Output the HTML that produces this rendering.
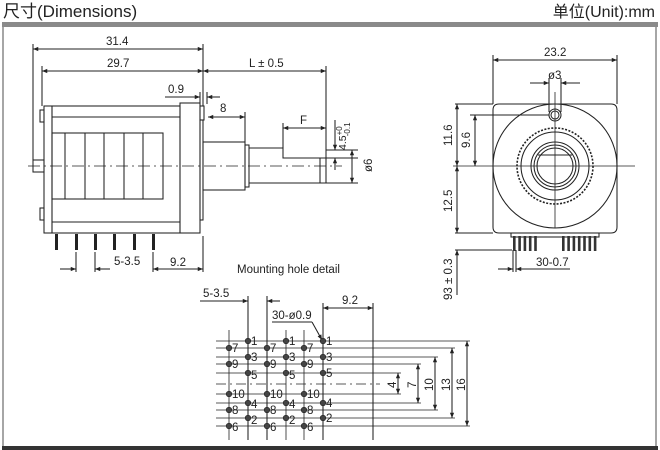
<!DOCTYPE html>
<html><head><meta charset="utf-8"><style>
html,body{margin:0;padding:0;background:#fff;}
svg{display:block;}
text{font-family:"Liberation Sans","Noto Sans CJK SC",sans-serif;fill:#222;}
</style></head><body>
<svg width="660" height="450" viewBox="0 0 660 450" xmlns="http://www.w3.org/2000/svg">
<defs>
<marker id="a" viewBox="0 0 10 10" refX="10" refY="5" markerWidth="7" markerHeight="5" orient="auto-start-reverse"><path d="M0,1 L10,5 L0,9 z" fill="#222"/></marker>
</defs>
<rect width="660" height="450" fill="#fff"/>
<text x="3" y="17" font-size="17">尺寸(Dimensions)</text>
<text x="655" y="17" font-size="16" text-anchor="end">单位(Unit):mm</text>
<rect x="2" y="22" width="656" height="5" fill="#8a8a8a"/>
<line x1="3" y1="27" x2="3" y2="446" stroke="#888" stroke-width="1.5"/>
<line x1="656" y1="27" x2="656" y2="446" stroke="#888" stroke-width="1.5"/>
<rect x="2" y="446" width="656" height="4" fill="#333"/>

<g stroke="#222" stroke-width="1.05" fill="none">
<line x1="33" y1="49" x2="203" y2="49" marker-start="url(#a)" marker-end="url(#a)"/>
<line x1="33" y1="44" x2="33" y2="160"/>
<line x1="42" y1="71" x2="203" y2="71" marker-start="url(#a)" marker-end="url(#a)"/>
<line x1="42" y1="66" x2="42" y2="106"/>
<line x1="203" y1="44" x2="203" y2="106"/>
<line x1="203" y1="71" x2="326" y2="71" marker-start="url(#a)" marker-end="url(#a)"/>
<line x1="326" y1="66" x2="326" y2="160"/>
<line x1="165" y1="97" x2="200" y2="97" marker-end="url(#a)"/>
<line x1="207" y1="97" x2="220" y2="97" marker-start="url(#a)"/>
<line x1="200" y1="92" x2="200" y2="104"/>
<line x1="207" y1="92" x2="207" y2="104"/>
<line x1="208" y1="117" x2="245" y2="117" marker-start="url(#a)" marker-end="url(#a)"/>
<line x1="245" y1="112" x2="245" y2="142"/>
<line x1="283" y1="128" x2="326" y2="128" marker-start="url(#a)" marker-end="url(#a)"/>
<line x1="283" y1="123" x2="283" y2="148"/>
<line x1="335" y1="120" x2="335" y2="150" marker-end="url(#a)"/>
<line x1="335" y1="158" x2="335" y2="170" marker-start="url(#a)"/>
<line x1="283" y1="158" x2="358" y2="158"/>
<line x1="326" y1="150" x2="358" y2="150"/>
<line x1="326" y1="183" x2="358" y2="183"/>
<line x1="352" y1="150" x2="352" y2="183" marker-start="url(#a)" marker-end="url(#a)"/>
<rect x="44" y="106" width="8" height="127"/>
<rect x="40" y="110" width="4" height="12"/>
<rect x="40" y="208" width="4" height="12"/>
<rect x="52" y="106" width="128" height="127"/>
<line x1="52" y1="117" x2="180" y2="117"/>
<line x1="52" y1="222" x2="180" y2="222"/>
<rect x="52" y="133" width="111" height="66"/>
<line x1="65" y1="133" x2="65" y2="199"/>
<line x1="85" y1="133" x2="85" y2="199"/>
<line x1="104" y1="133" x2="104" y2="199"/>
<line x1="124" y1="133" x2="124" y2="199"/>
<line x1="143" y1="133" x2="143" y2="199"/>
<rect x="180" y="103" width="20" height="130"/>
<rect x="200" y="106" width="4" height="14"/>
<rect x="200" y="120" width="3" height="100"/>
<rect x="33" y="160" width="11" height="12"/>
<rect x="203" y="142" width="42" height="48"/>
<rect x="245" y="145" width="4" height="42"/>
<path d="M249 148 H283 V158 H326 V183 H249"/>
<line x1="320" y1="158" x2="320" y2="183"/>
<line x1="28" y1="166" x2="342" y2="166" stroke-dasharray="12,4,2,4" stroke-width="0.8"/>
<line x1="76" y1="252" x2="76" y2="272"/>
<line x1="95" y1="252" x2="95" y2="272"/>
<line x1="153" y1="252" x2="153" y2="272"/>
<line x1="60" y1="269" x2="76" y2="269" marker-end="url(#a)"/>
<line x1="95" y1="269" x2="110" y2="269" marker-start="url(#a)"/>
<line x1="153" y1="269" x2="203" y2="269" marker-start="url(#a)" marker-end="url(#a)"/>
<line x1="203" y1="236" x2="203" y2="272"/>
</g>
<g fill="#222">
<rect x="55" y="234" width="3" height="16"/>
<rect x="75" y="234" width="3" height="16"/>
<rect x="94" y="234" width="3" height="16"/>
<rect x="113" y="234" width="3" height="16"/>
<rect x="133" y="234" width="3" height="16"/>
<rect x="152" y="234" width="3" height="16"/>
</g>
<g font-size="11.5">
<text x="106" y="45">31.4</text>
<text x="107" y="67">29.7</text>
<text x="249" y="67">L ± 0.5</text>
<text x="168" y="93">0.9</text>
<text x="220" y="112">8</text>
<text x="300" y="124">F</text>
<text x="114" y="265">5-3.5</text>
<text x="170" y="266">9.2</text>
<text x="237" y="273">Mounting hole detail</text>
<text transform="translate(346,150) rotate(-90)" font-size="10.5">4.5<tspan font-size="8" dy="-4">+0</tspan><tspan font-size="8" dx="-10" dy="8">-0.1</tspan></text>
<text transform="translate(372,172) rotate(-90)">ø6</text>
</g>

<g stroke="#222" stroke-width="1.05" fill="none">
<line x1="493" y1="60" x2="617" y2="60" marker-start="url(#a)" marker-end="url(#a)"/>
<line x1="493" y1="55" x2="493" y2="104"/>
<line x1="617" y1="55" x2="617" y2="104"/>
<line x1="530" y1="83" x2="549" y2="83" marker-end="url(#a)"/>
<line x1="561" y1="83" x2="580" y2="83" marker-start="url(#a)"/>
<line x1="549" y1="78" x2="549" y2="112"/>
<line x1="561" y1="78" x2="561" y2="112"/>
<path d="M499 104 H611 Q617 104 617 110 V227 Q617 233 611 233 H499 Q493 233 493 227 V110 Q493 104 499 104 Z"/>
<circle cx="555" cy="166" r="62"/>
<circle cx="555" cy="115" r="6"/>
<circle cx="555" cy="115" r="4"/>
<circle cx="555" cy="166" r="38" stroke-dasharray="2,1.5" stroke-width="1.6"/>
<circle cx="555" cy="166" r="34"/>
<circle cx="555" cy="166" r="24"/>
<circle cx="555" cy="166" r="21"/>
<circle cx="555" cy="166" r="18"/>
<line x1="538" y1="155" x2="572" y2="155"/>
<line x1="453" y1="166" x2="635" y2="166" stroke-width="0.8"/>
<line x1="555" y1="92" x2="555" y2="228" stroke-width="0.8"/>
<line x1="455" y1="104" x2="493" y2="104"/>
<line x1="470" y1="115" x2="549" y2="115"/>
<line x1="455" y1="233" x2="493" y2="233"/>
<line x1="455" y1="250" x2="512" y2="250"/>
<line x1="457" y1="104" x2="457" y2="166" marker-start="url(#a)" marker-end="url(#a)"/>
<line x1="475" y1="115" x2="475" y2="166" marker-start="url(#a)" marker-end="url(#a)"/>
<line x1="457" y1="166" x2="457" y2="233" marker-start="url(#a)" marker-end="url(#a)"/>
<line x1="457" y1="250" x2="457" y2="295" marker-start="url(#a)"/>
<rect x="511" y="233" width="88" height="4"/>
<line x1="513" y1="250" x2="513" y2="272"/>
<line x1="516" y1="250" x2="516" y2="272"/>
<line x1="498" y1="269" x2="513" y2="269" marker-end="url(#a)"/>
<line x1="516" y1="269" x2="570" y2="269" marker-start="url(#a)"/>
</g>
<g fill="#333">
<rect x="513" y="236" width="2.6" height="15"/><rect x="518.3" y="236" width="2.6" height="15"/><rect x="523.6" y="236" width="2.6" height="15"/><rect x="528.9" y="236" width="2.6" height="15"/><rect x="534.2" y="236" width="2.6" height="15"/>
<rect x="562" y="236" width="2.6" height="15"/><rect x="567.3" y="236" width="2.6" height="15"/><rect x="572.6" y="236" width="2.6" height="15"/><rect x="577.9" y="236" width="2.6" height="15"/><rect x="583.2" y="236" width="2.6" height="15"/><rect x="588.5" y="236" width="2.6" height="15"/><rect x="593.8" y="236" width="2.6" height="15"/>
</g>
<g font-size="11.5">
<text x="544" y="56">23.2</text>
<text x="548" y="79">ø3</text>
<text x="536" y="266">30-0.7</text>
<text transform="translate(452,146) rotate(-90)">11.6</text>
<text transform="translate(470,148) rotate(-90)">9.6</text>
<text transform="translate(452,212) rotate(-90)">12.5</text>
<text transform="translate(452,300) rotate(-90)">93 ± 0.3</text>
</g>

<g stroke="#222" stroke-width="1.05" fill="none">
<line x1="200" y1="301" x2="248" y2="301" marker-end="url(#a)"/>
<line x1="267" y1="301" x2="280" y2="301" marker-start="url(#a)"/>
<line x1="248" y1="296" x2="248" y2="440"/>
<line x1="267" y1="296" x2="267" y2="440"/>
<line x1="229" y1="330" x2="229" y2="440" stroke-width="0.8"/>
<line x1="286" y1="330" x2="286" y2="440" stroke-width="0.8"/>
<line x1="304" y1="330" x2="304" y2="440" stroke-width="0.8"/>
<line x1="323" y1="303" x2="323" y2="440"/>
<line x1="323" y1="308" x2="373" y2="308" marker-start="url(#a)" marker-end="url(#a)"/>
<line x1="373" y1="303" x2="373" y2="440"/>
<line x1="272" y1="322" x2="312" y2="322"/>
<line x1="312" y1="322" x2="322" y2="340" marker-end="url(#a)"/>
<g stroke-width="0.8">
<line x1="216" y1="341" x2="470" y2="341"/>
<line x1="216" y1="348" x2="455" y2="348"/>
<line x1="216" y1="357" x2="438" y2="357"/>
<line x1="216" y1="364" x2="421" y2="364"/>
<line x1="216" y1="373" x2="401" y2="373"/>
<line x1="216" y1="394" x2="401" y2="394"/>
<line x1="216" y1="403" x2="421" y2="403"/>
<line x1="216" y1="410" x2="438" y2="410"/>
<line x1="216" y1="418" x2="455" y2="418"/>
<line x1="216" y1="426" x2="470" y2="426"/>
<line x1="216" y1="384" x2="380" y2="384" stroke-dasharray="10,4,2,4"/>
</g>
<line x1="398" y1="373" x2="398" y2="394" marker-start="url(#a)" marker-end="url(#a)"/>
<line x1="418" y1="364" x2="418" y2="403" marker-start="url(#a)" marker-end="url(#a)"/>
<line x1="435" y1="357" x2="435" y2="410" marker-start="url(#a)" marker-end="url(#a)"/>
<line x1="452" y1="348" x2="452" y2="418" marker-start="url(#a)" marker-end="url(#a)"/>
<line x1="467" y1="341" x2="467" y2="426" marker-start="url(#a)" marker-end="url(#a)"/>
</g>
<g fill="#444" stroke="#222" stroke-width="0.6">
<circle cx="229" cy="348" r="2.8"/><circle cx="229" cy="364" r="2.8"/><circle cx="229" cy="394" r="2.8"/><circle cx="229" cy="410" r="2.8"/><circle cx="229" cy="426" r="2.8"/>
<circle cx="248" cy="341" r="2.8"/><circle cx="248" cy="357" r="2.8"/><circle cx="248" cy="373" r="2.8"/><circle cx="248" cy="403" r="2.8"/><circle cx="248" cy="418" r="2.8"/>
<circle cx="267" cy="348" r="2.8"/><circle cx="267" cy="364" r="2.8"/><circle cx="267" cy="394" r="2.8"/><circle cx="267" cy="410" r="2.8"/><circle cx="267" cy="426" r="2.8"/>
<circle cx="286" cy="341" r="2.8"/><circle cx="286" cy="357" r="2.8"/><circle cx="286" cy="373" r="2.8"/><circle cx="286" cy="403" r="2.8"/><circle cx="286" cy="418" r="2.8"/>
<circle cx="304" cy="348" r="2.8"/><circle cx="304" cy="364" r="2.8"/><circle cx="304" cy="394" r="2.8"/><circle cx="304" cy="410" r="2.8"/><circle cx="304" cy="426" r="2.8"/>
<circle cx="323" cy="341" r="2.8"/><circle cx="323" cy="357" r="2.8"/><circle cx="323" cy="373" r="2.8"/><circle cx="323" cy="403" r="2.8"/><circle cx="323" cy="418" r="2.8"/>
</g>
<g font-size="11.5">
<text x="203" y="297">5-3.5</text>
<text x="342" y="304">9.2</text>
<text x="272" y="319">30-ø0.9</text>
<text x="232" y="352">7</text><text x="232" y="368">9</text><text x="232" y="398">10</text><text x="232" y="414">8</text><text x="232" y="431">6</text>
<text x="251" y="345">1</text><text x="251" y="361">3</text><text x="251" y="379">5</text><text x="251" y="408">4</text><text x="251" y="424">2</text>
<text x="270" y="352">7</text><text x="270" y="368">9</text><text x="270" y="398">10</text><text x="270" y="414">8</text><text x="270" y="431">6</text>
<text x="289" y="345">1</text><text x="289" y="361">3</text><text x="289" y="379">5</text><text x="289" y="408">4</text><text x="289" y="424">2</text>
<text x="307" y="352">7</text><text x="307" y="368">9</text><text x="307" y="398">10</text><text x="307" y="414">8</text><text x="307" y="431">6</text>
<text x="326" y="345">1</text><text x="326" y="361">3</text><text x="326" y="377">5</text><text x="326" y="407">4</text><text x="326" y="422">2</text>
<text transform="translate(396,388) rotate(-90)">4</text>
<text transform="translate(416,388) rotate(-90)">7</text>
<text transform="translate(433,391) rotate(-90)">10</text>
<text transform="translate(450,391) rotate(-90)">13</text>
<text transform="translate(465,391) rotate(-90)">16</text>
</g>
</svg>
</body></html>
